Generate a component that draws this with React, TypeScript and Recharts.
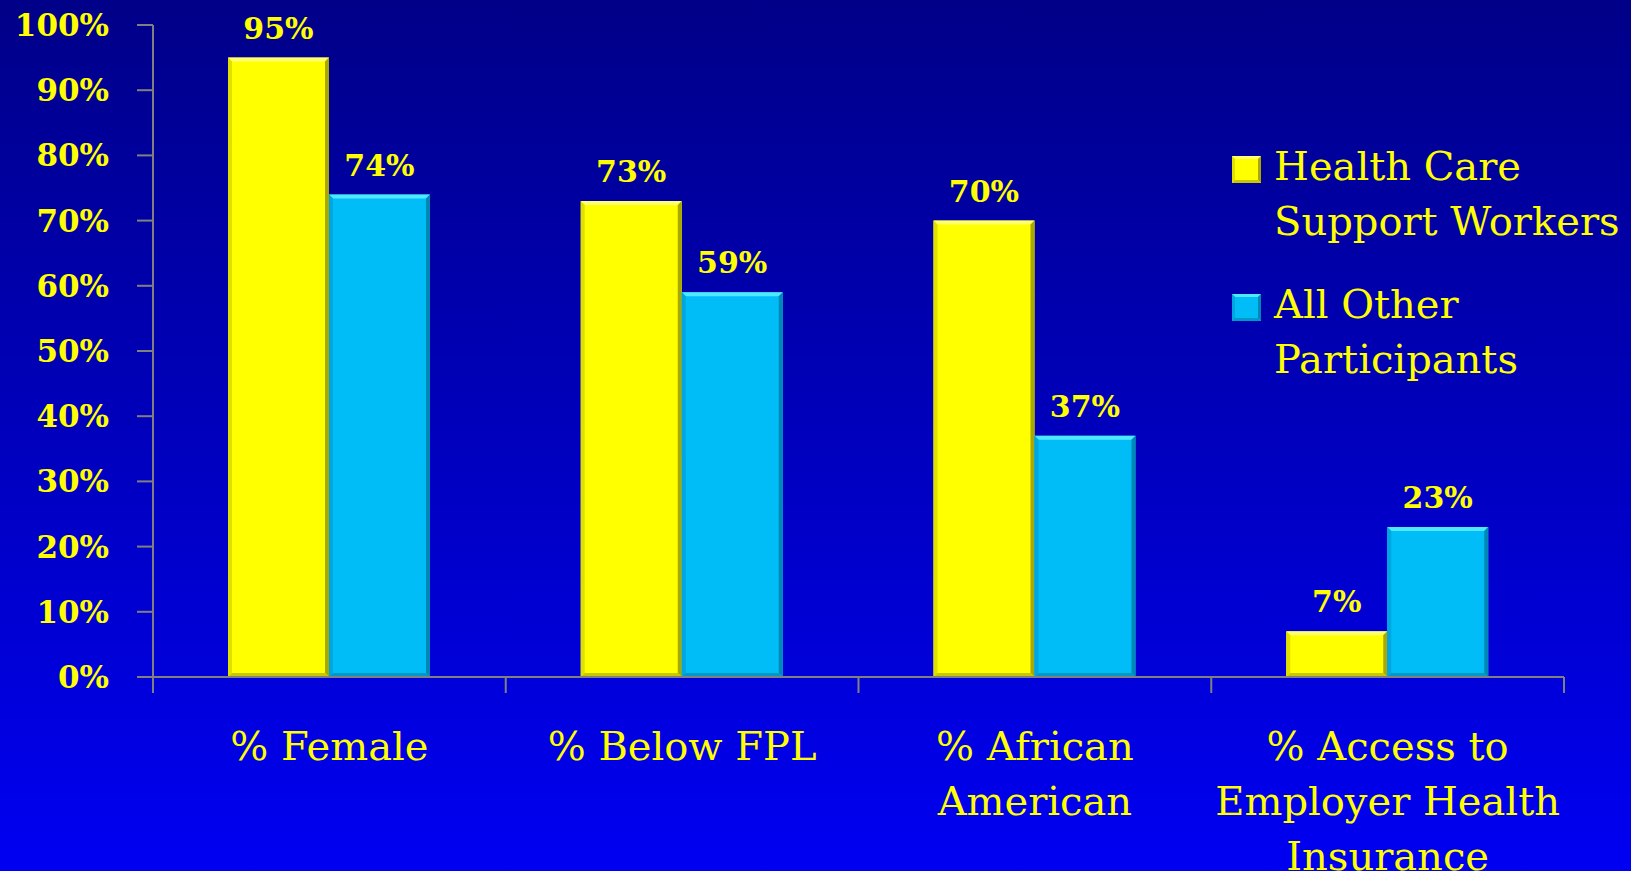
import { BarChart, Bar, XAxis, YAxis, Legend, LabelList } from 'recharts';

// tick label lines for each category, as they wrap on the slide
const categoryLines = [
  ['% Female'],
  ['% Below FPL'],
  ['% African', 'American'],
  ['% Access to', 'Employer Health', 'Insurance'],
];
const categories = categoryLines.map((l) => l.join(' '));
const healthCareWorkers = [95, 73, 70, 7];
const allOtherParticipants = [74, 59, 37, 23];
const seriesNames = ['Health Care Support Workers', 'All Other Participants'];
const yTicks = [0, 10, 20, 30, 40, 50, 60, 70, 80, 90, 100];

const data = categories.map((name, i) => ({
  name,
  hcsw: healthCareWorkers[i],
  other: allOtherParticipants[i],
}));

const FONT = '"DejaVu Serif", serif';
const TEXT_YELLOW = '#FFFF00';
const AXIS_GREY = '#808080';

type Bevel = { base: string; top: string; left: string; right: string; bottom: string };

const yellowBevel: Bevel = { base: '#FFFF00', top: '#FFFF70', left: '#E0E000', right: '#A8A800', bottom: '#C8C800' };
const blueBevel: Bevel = { base: '#00BDF8', top: '#50E8FF', left: '#00A6E0', right: '#0088B4', bottom: '#0098C8' };

function bevelPaths(x: number, y: number, w: number, h: number, c: Bevel, size = 4) {
  const b = Math.min(size, w / 2, h / 2);
  const pt = (a: number[][]) => a.map((p) => p.join(',')).join(' ');
  return (
    <g>
      <rect x={x} y={y} width={w} height={h} fill={c.base} />
      <polygon points={pt([[x, y], [x + w, y], [x + w - b, y + b], [x + b, y + b]])} fill={c.top} />
      <polygon points={pt([[x, y], [x + b, y + b], [x + b, y + h - b], [x, y + h]])} fill={c.left} />
      <polygon points={pt([[x + w, y], [x + w, y + h], [x + w - b, y + h - b], [x + w - b, y + b]])} fill={c.right} />
      <polygon points={pt([[x, y + h], [x + b, y + h - b], [x + w - b, y + h - b], [x + w, y + h]])} fill={c.bottom} />
    </g>
  );
}

const makeShape = (c: Bevel) => (props: any) => {
  const { x, y, width, height } = props;
  if (!height || height <= 0) return <g />;
  return bevelPaths(x, y, width, height, c);
};

// tick marks sit between categories (Excel style), at the band edges
const BoundaryTick = (props: any) => {
  const { x, y, payload, index, visibleTicksCount } = props;
  const half = payload && payload.offset ? payload.offset : 0;
  const xs = [x - half];
  if (index === visibleTicksCount - 1) xs.push(x + half);
  return (
    <g>
      {xs.map((tx, i) => (
        <line key={i} x1={tx} x2={tx} y1={y} y2={y + 16} stroke={AXIS_GREY} strokeWidth={2} />
      ))}
    </g>
  );
};

const CategoryTick = (props: any) => {
  const { x, y, payload } = props;
  const idx = categories.indexOf(payload.value);
  const lines = idx >= 0 ? categoryLines[idx] : [String(payload.value)];
  return (
    <text x={x} y={y + 59} textAnchor="middle" fill={TEXT_YELLOW} style={{ fontFamily: FONT, fontSize: 40 }}>
      {lines.map((line, i) => (
        <tspan key={i} x={x} dy={i === 0 ? 0 : 55}>
          {line}
        </tspan>
      ))}
    </text>
  );
};

const LegendContent = (props: any) => {
  const payload = [...(props.payload || [])].sort(
    (a: any, b: any) => seriesNames.indexOf(a.value) - seriesNames.indexOf(b.value)
  );
  return (
    <div>
      {payload.map((entry: any) => (
        <div key={entry.value} style={{ display: 'flex', alignItems: 'flex-start', marginBottom: 28 }}>
          <svg width={30} height={28} style={{ marginTop: 17, marginRight: 12, flex: 'none' }}>
            {bevelPaths(0, 0, 29, 27, entry.value === seriesNames[0] ? yellowBevel : blueBevel, 3)}
          </svg>
          <div
            style={{
              width: 355,
              fontFamily: FONT,
              fontSize: 40,
              lineHeight: '55px',
              color: TEXT_YELLOW,
              whiteSpace: 'normal',
            }}
          >
            {entry.value}
          </div>
        </div>
      ))}
    </div>
  );
};

export default function App() {
  return (
    <div
      style={{
        position: 'absolute',
        left: 0,
        top: 0,
        width: 1631,
        height: 871,
        overflow: 'hidden',
        background: 'linear-gradient(to bottom, #000088 0%, #0000F2 100%)',
      }}
    >
      <BarChart
        width={1631}
        height={871}
        data={data}
        margin={{ top: 25, right: 67, left: 0, bottom: 0 }}
        barGap={0}
        barCategoryGap={75}
      >
        <YAxis
          type="number"
          domain={[0, 100]}
          ticks={yTicks}
          interval={0}
          width={153}
          tickSize={16}
          tickMargin={28}
          tickFormatter={(v) => `${v}%`}
          axisLine={{ stroke: AXIS_GREY, strokeWidth: 2 }}
          tickLine={{ stroke: AXIS_GREY, strokeWidth: 2 }}
          tick={{ fill: TEXT_YELLOW, fontFamily: FONT, fontSize: 31, fontWeight: 'bold' }}
        />
        <XAxis
          xAxisId="a-grid"
          dataKey="name"
          height={16}
          interval={0}
          tickSize={0}
          tickMargin={0}
          tickLine={false}
          axisLine={{ stroke: AXIS_GREY, strokeWidth: 2 }}
          tick={<BoundaryTick />}
        />
        <XAxis
          xAxisId="b-cat"
          dataKey="name"
          height={178}
          interval={0}
          axisLine={false}
          tickLine={false}
          tick={<CategoryTick />}
        />
        <Legend
          layout="vertical"
          align="center"
          verticalAlign="middle"
          content={<LegendContent />}
          wrapperStyle={{ left: 1232, top: 139, width: 399, height: 270 }}
        />
        <Bar
          xAxisId="b-cat"
          dataKey="hcsw"
          name={seriesNames[0]}
          fill={yellowBevel.base}
          shape={makeShape(yellowBevel)}
          isAnimationActive={false}
        >
          <LabelList
            dataKey="hcsw"
            position="top"
            offset={19}
            formatter={(v: any) => `${v}%`}
            style={{ fill: TEXT_YELLOW, fontFamily: FONT, fontSize: 30, fontWeight: 'bold' }}
          />
        </Bar>
        <Bar
          xAxisId="b-cat"
          dataKey="other"
          name={seriesNames[1]}
          fill={blueBevel.base}
          shape={makeShape(blueBevel)}
          isAnimationActive={false}
        >
          <LabelList
            dataKey="other"
            position="top"
            offset={19}
            formatter={(v: any) => `${v}%`}
            style={{ fill: TEXT_YELLOW, fontFamily: FONT, fontSize: 30, fontWeight: 'bold' }}
          />
        </Bar>
      </BarChart>
    </div>
  );
}
